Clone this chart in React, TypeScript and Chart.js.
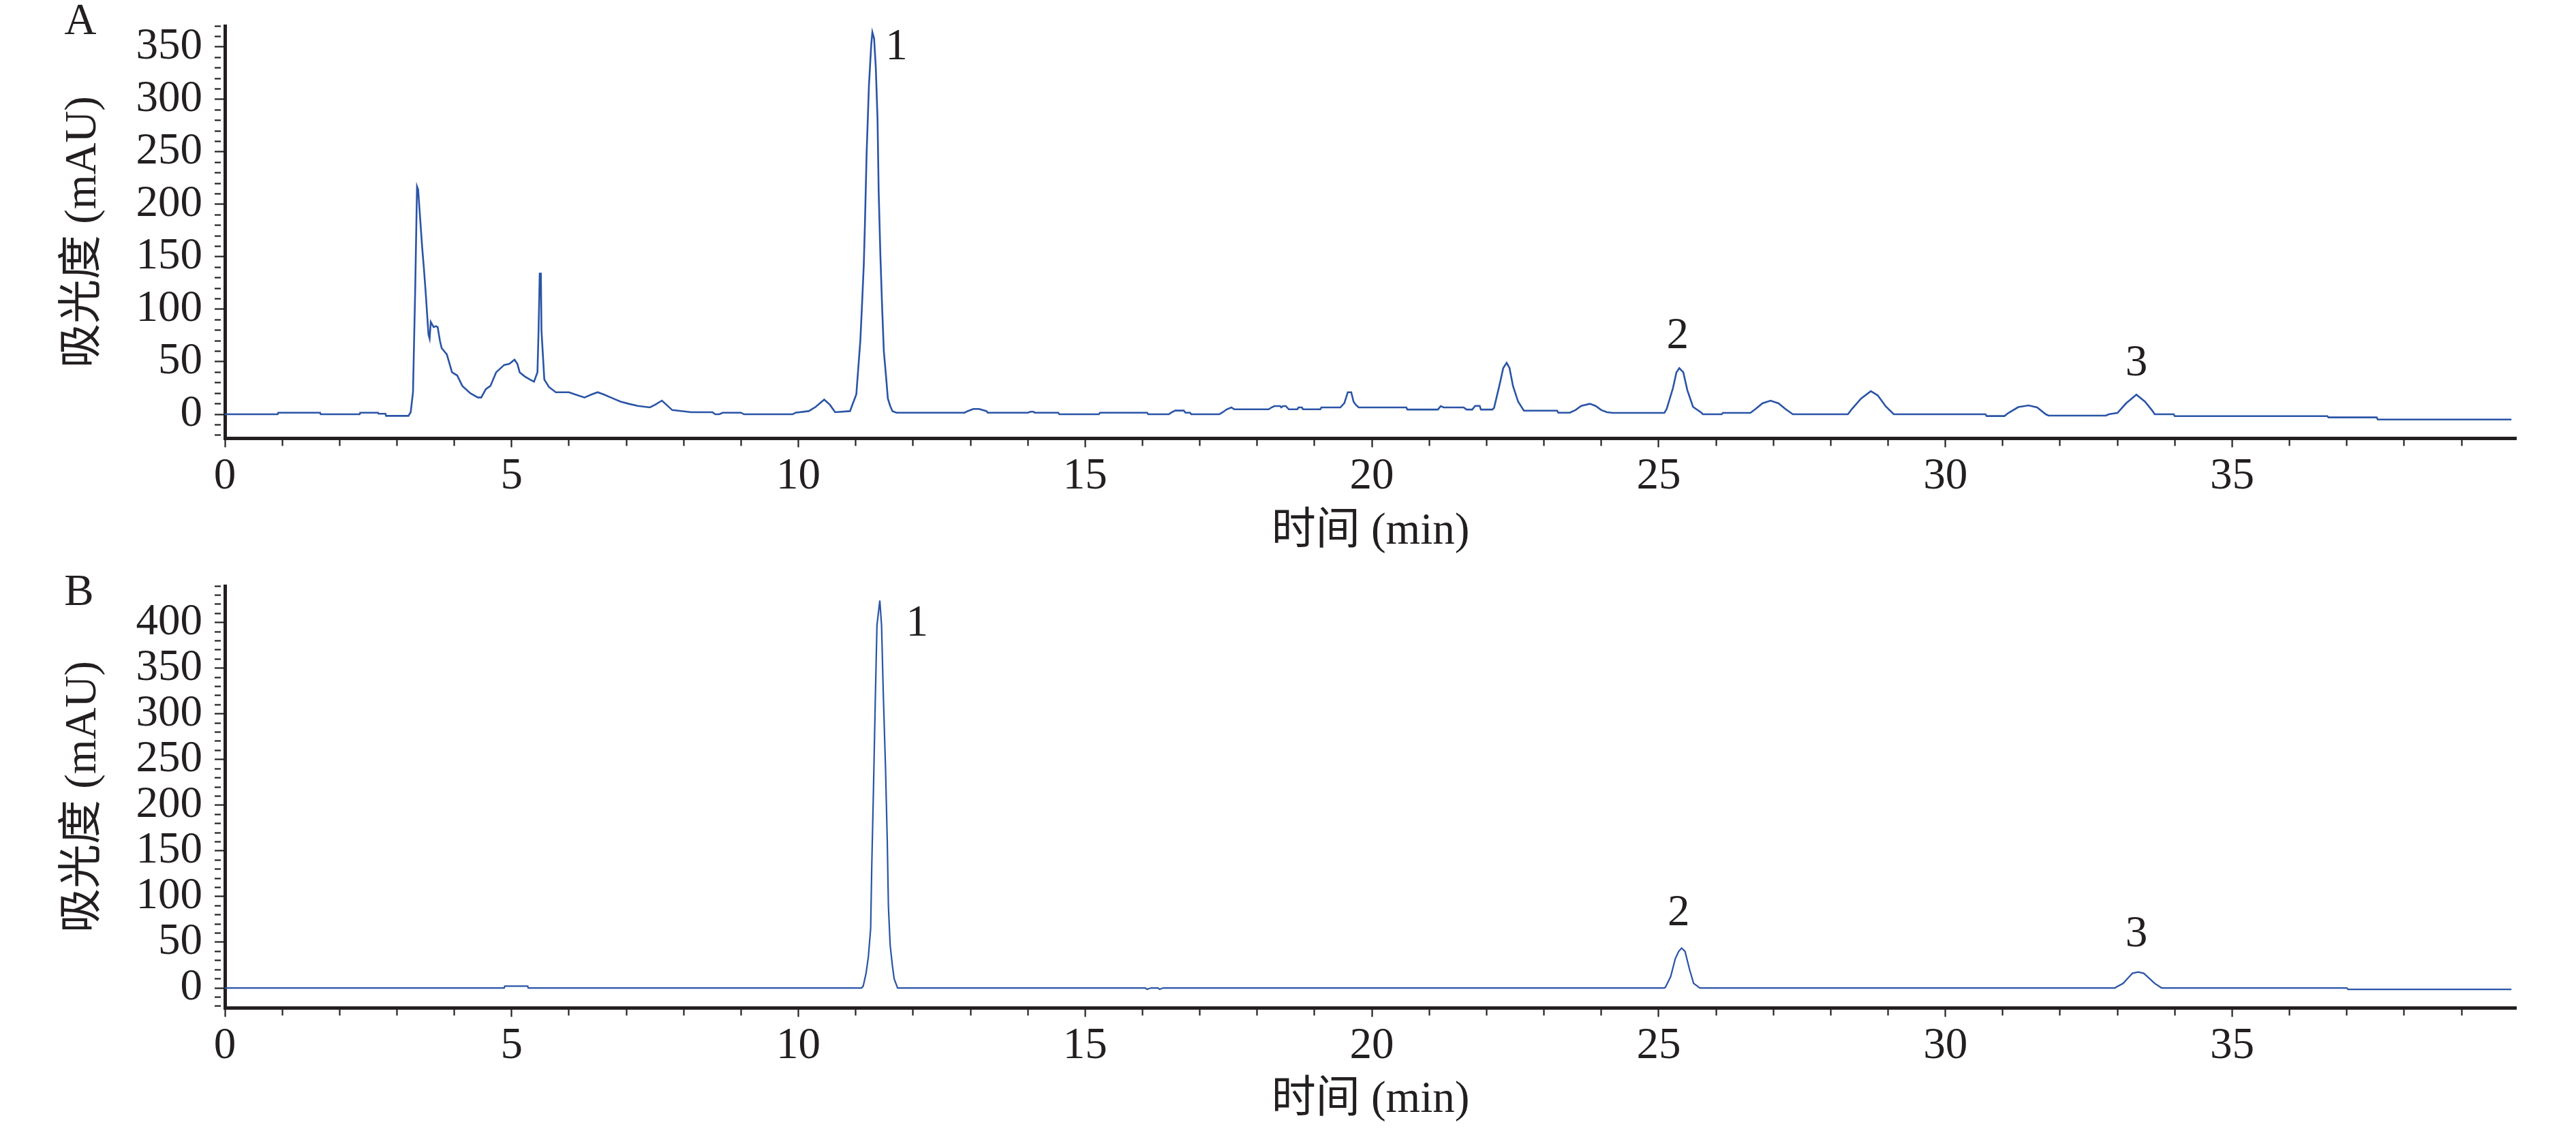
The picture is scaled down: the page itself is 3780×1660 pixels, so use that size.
import React, { useEffect, useRef } from 'react';
import { Chart, registerables } from 'chart.js';

Chart.register(...registerables);

const FONT = "'Liberation Serif', 'Noto Sans CJK SC', serif";
const INK = '#231f20';
const LINE_COLOR = '#2a54a6';

// ---- shared axis text ----
const xTitle = '时间 (min)';
const yTitle = '吸光度 (mAU)';
const xMin = 0;
const xMax = 39.95;
const xMajorStep = 5;
const xMinorStep = 1;
const yMajorStep = 50;
const yMinorStep = 10;

// ---- panel A (sample) ----
const timeA = [
  0, 0.92, 0.93, 1.66, 1.67, 2.35, 2.36, 2.67, 2.68, 2.8, 2.81, 3.2, 3.24, 3.28, 3.32, 3.35, 3.37, 3.39,
  3.44, 3.47, 3.5, 3.55, 3.57, 3.59, 3.62, 3.64, 3.68, 3.71, 3.75, 3.78, 3.87, 3.96, 4.05, 4.14, 4.28,
  4.41, 4.47, 4.55, 4.63, 4.73, 4.87, 4.96, 5.05, 5.1, 5.14, 5.23, 5.32, 5.39, 5.45, 5.47, 5.49, 5.51,
  5.52, 5.57, 5.65, 5.77, 6.0, 6.1, 6.27, 6.4, 6.5, 6.6, 6.77, 6.9, 7.04, 7.2, 7.41, 7.5, 7.62, 7.7,
  7.8, 8.13, 8.5, 8.55, 8.62, 8.68, 9.0, 9.05, 9.9, 9.95, 10.18, 10.3, 10.45, 10.55, 10.64, 10.9,
  11.01, 11.08, 11.11, 11.14, 11.16, 11.19, 11.23, 11.27, 11.29, 11.32, 11.35, 11.38, 11.4, 11.43,
  11.46, 11.49, 11.53, 11.56, 11.6, 11.64, 11.71, 12.9, 12.95, 13.05, 13.15, 13.28, 13.3, 14.0, 14.05,
  14.1, 14.12, 14.53, 14.55, 15.24, 15.26, 16.08, 16.1, 16.46, 16.5, 16.57, 16.72, 16.75, 16.83, 16.85,
  17.34, 17.4, 17.47, 17.55, 17.6, 18.2, 18.25, 18.3, 18.4, 18.42, 18.45, 18.5, 18.55, 18.7, 18.72,
  18.78, 18.8, 19.1, 19.12, 19.45, 19.52, 19.58, 19.64, 19.68, 19.72, 19.77, 20.6, 20.62, 21.15, 21.2,
  21.25, 21.6, 21.65, 21.75, 21.8, 21.88, 21.9, 22.1, 22.13, 22.23, 22.29, 22.35, 22.4, 22.46, 22.55,
  22.65, 23.23, 23.25, 23.45, 23.55, 23.65, 23.8, 23.9, 24.0, 24.1, 24.2, 25.1, 25.14, 25.25, 25.31,
  25.36, 25.43, 25.5, 25.6, 25.75, 25.77, 26.1, 26.12, 26.6, 26.69, 26.81, 26.95, 27.09, 27.21, 27.34,
  28.3, 28.37, 28.53, 28.7, 28.82, 28.96, 29.1, 30.7, 30.72, 31.03, 31.1, 31.27, 31.45, 31.6, 31.75,
  31.8, 32.8, 32.85, 33.0, 33.15, 33.33, 33.48, 33.6, 33.65, 33.98, 34.0, 36.66, 36.68, 37.52, 37.54,
  39.87,
];
const absA = [
  0, 0, 1.5, 1.5, 0, 0, 1.5, 1.5, 0.5, 0.5, -1.5, -1.5, 2, 21, 123, 217, 214, 198,
  159, 139, 117, 76, 72, 88, 85, 83, 84, 83, 70, 63, 57, 40, 37, 27, 20,
  16, 16, 24, 27, 40, 47, 48, 52, 48, 40, 36, 33, 31, 40, 81, 134, 134,
  80, 33, 26, 21, 21, 19, 16, 19, 21, 19, 15, 12, 10, 8, 6.5, 9, 13, 9,
  4, 2, 2, 0, 0, 1.5, 1.5, 0, 0, 1.5, 3, 7, 14, 9, 2, 3,
  19, 70, 105, 142, 181, 249, 313, 352, 364, 358, 330, 281, 212, 151,
  102, 60, 35, 15, 8, 3, 1.5, 1.5, 3, 5, 5, 3, 1.5, 1.5, 2.5,
  2.5, 1.5, 1.5, 0, 0, 1.5, 1.5, 0, 0, 1.5, 3.5, 3.5, 1.5, 1.5, 0,
  0, 2, 4.7, 6.5, 4.7, 4.7, 6.5, 7.8, 7.8, 6.5, 7.8, 7.8, 4.7, 4.7, 6.5,
  6.5, 4.7, 4.7, 6.5, 6.5, 10.6, 21, 21, 12, 9, 6.5, 6.5, 4.5, 4.5, 7.8,
  6.5, 6.5, 4.5, 4.5, 8, 8, 4.5, 4.5, 6, 29, 44, 49, 44, 27, 12,
  3.4, 3.4, 1.5, 1.5, 4, 8, 10, 8, 4, 2, 1.3, 1.3, 5, 25, 40,
  44, 40, 23, 7, 1.3, 0, 0, 1.3, 1.3, 5, 10.4, 13, 10.4, 5, 0,
  0, 5, 15, 22, 18, 7.5, 0, 0, -1.7, -1.7, 1.3, 6.8, 8.4, 6.5, 0,
  -1.3, -1.3, 0, 1.3, 10.4, 18.7, 12, 4, 0, 0, -1.8, -1.8, -3, -3, -5,
  -5,
];
const peakLabelsA = ['1', '2', '3'];
const peakTimeA = [11.71, 25.33, 33.33];
const peakAbsA = [349, 74, 48];
const yMinA = -22.7;
const yMaxA = 370;

// ---- panel B (standard) ----
const timeB = [
  0, 4.87, 4.88, 5.28, 5.29, 11.1, 11.13, 11.18, 11.22, 11.26, 11.28, 11.31, 11.34, 11.37, 11.42,
  11.45, 11.48, 11.52, 11.55, 11.57, 11.6, 11.64, 11.67, 11.73, 16.05, 16.08, 16.15, 16.27, 16.3,
  16.36, 25.1, 25.12, 25.21, 25.29, 25.35, 25.4, 25.46, 25.54, 25.61, 25.72, 32.96, 32.98, 33.1,
  33.26, 33.36, 33.46, 33.65, 33.77, 37.0, 37.02, 39.87,
];
const absB = [
  0, 0, 2, 2, 0, 0, 2, 16, 34, 65, 135, 220, 312, 397, 424,
  397, 323, 239, 160, 89, 47, 24, 10, 0, 0, -1.5, 0, 0, -1.5,
  0, 0, 1, 12.5, 32, 40, 43.6, 40, 20, 5, 0, 0, 1, 5,
  16, 17.4, 16, 5, 0, 0, -1.5, -1.5,
];
const peakLabelsB = ['1', '2', '3'];
const peakTimeB = [12.07, 25.35, 33.33];
const peakAbsB = [398, 81, 58];
const yMinB = -21.6;
const yMaxB = 440;

type PanelProps = {
  letter: string;
  letterX: number;
  letterY: number;
  times: number[];
  values: number[];
  labels: string[];
  labelTimes: number[];
  labelValues: number[];
  yMin: number;
  yMax: number;
  top: number;
  xAxisHeight: number;
  xTitlePad: number;
  lineWidth: number;
};

const W = 3780;
const H = 830;

function Panel(p: PanelProps) {
  const ref = useRef<HTMLCanvasElement | null>(null);
  useEffect(() => {
    if (!ref.current) return;
    const pts = p.times.map((t, i) => ({ x: t, y: p.values[i] }));
    const annotate = {
      id: 'annotate',
      afterDatasetsDraw(chart: any) {
        const ctx = chart.ctx;
        const xs = chart.scales.x;
        const ys = chart.scales.y;
        ctx.save();
        ctx.fillStyle = INK;
        ctx.font = `65px ${FONT}`;
        ctx.textAlign = 'center';
        ctx.textBaseline = 'middle';
        p.labels.forEach((t, i) => {
          ctx.fillText(t, xs.getPixelForValue(p.labelTimes[i]), ys.getPixelForValue(p.labelValues[i]));
        });
        ctx.fillText(p.letter, p.letterX, p.letterY);
        ctx.restore();
      },
    };
    const chart = new Chart(ref.current, {
      type: 'line',
      data: {
        datasets: [
          {
            data: pts,
            borderColor: LINE_COLOR,
            borderWidth: p.lineWidth,
            pointRadius: 0,
            tension: 0,
            fill: false,
          },
        ],
      },
      options: {
        animation: false,
        responsive: false,
        devicePixelRatio: 1,
        layout: { padding: { left: 0, right: 88, top: p.top, bottom: 0 } },
        plugins: { legend: { display: false }, tooltip: { enabled: false } },
        scales: {
          x: {
            type: 'linear',
            min: xMin,
            max: xMax,
            afterFit: (s: any) => {
              s.height = p.xAxisHeight;
              s.paddingLeft = 0;
              s.paddingRight = 0;
            },
            border: { display: true, width: 5, color: INK },
            grid: {
              drawOnChartArea: false,
              drawTicks: true,
              tickLength: 13.5,
              tickWidth: 2.2,
              tickColor: INK,
              tickBorderDash: (ctx: any) =>
                ctx.tick && Math.abs(ctx.tick.value % xMajorStep) < 1e-6 ? [] : [8.5, 100],
            },
            ticks: {
              stepSize: xMinorStep,
              autoSkip: false,
              includeBounds: false,
              maxRotation: 0,
              padding: 4.5,
              color: INK,
              font: { family: FONT, size: 65, lineHeight: 1.2 },
              callback: (v: any) => (Math.abs(Number(v) % xMajorStep) < 1e-6 ? String(v) : ''),
            },
            title: {
              display: true,
              text: xTitle,
              color: INK,
              font: { family: FONT, size: 65, lineHeight: 1.2 },
              padding: { top: 0, bottom: p.xTitlePad },
            },
          },
          y: {
            type: 'linear',
            min: p.yMin,
            max: p.yMax,
            afterFit: (s: any) => {
              s.width = 330;
              s.paddingTop = 0;
              s.paddingBottom = 0;
            },
            border: { display: true, width: 5, color: INK },
            grid: {
              drawOnChartArea: false,
              drawTicks: true,
              tickLength: 15,
              tickWidth: 2.2,
              tickColor: INK,
              tickBorderDash: (ctx: any) =>
                ctx.tick && Math.abs(ctx.tick.value % yMajorStep) < 1e-6 ? [] : [9, 100],
            },
            ticks: {
              stepSize: yMinorStep,
              autoSkip: false,
              includeBounds: false,
              padding: 18,
              color: INK,
              font: { family: FONT, size: 65, lineHeight: 1.2 },
              callback: (v: any) => (Math.abs(Number(v) % yMajorStep) < 1e-6 ? String(v) : ''),
            },
            title: {
              display: true,
              text: yTitle,
              color: INK,
              font: { family: FONT, size: 65, lineHeight: 1.2 },
              padding: { top: 84, bottom: 0 },
            },
          },
        },
      },
      plugins: [annotate],
    } as any);
    return () => chart.destroy();
  }, []);
  return <canvas ref={ref} width={W} height={H} style={{ display: 'block', width: W, height: H }} />;
}

export default function App() {
  return (
    <div style={{ position: 'absolute', left: 0, top: 0, width: W, height: 2 * H, background: '#ffffff' }}>
      <Panel
        letter="A"
        letterX={118}
        letterY={33}
        times={timeA}
        values={absA}
        labels={peakLabelsA}
        labelTimes={peakTimeA}
        labelValues={peakAbsA}
        yMin={yMinA}
        yMax={yMaxA}
        top={38}
        xAxisHeight={187}
        xTitlePad={10}
        lineWidth={2.6}
      />
      <Panel
        letter="B"
        letterX={116}
        letterY={41}
        times={timeB}
        values={absB}
        labels={peakLabelsB}
        labelTimes={peakTimeB}
        labelValues={peakAbsB}
        yMin={yMinB}
        yMax={yMaxB}
        top={30}
        xAxisHeight={181}
        xTitlePad={6}
        lineWidth={2.2}
      />
    </div>
  );
}
